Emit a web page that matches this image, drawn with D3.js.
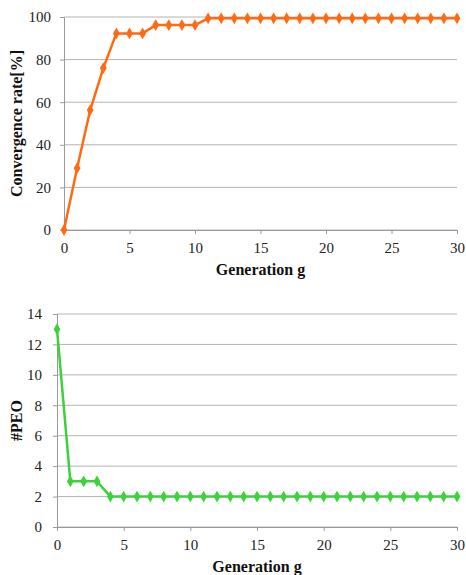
<!DOCTYPE html>
<html><head><meta charset="utf-8">
<script src="https://cdn.jsdelivr.net/npm/d3@7"></script>
<style>body{margin:0;background:#fff}svg{display:block}</style>
</head><body>
<script>
const generations = [0,1,2,3,4,5,6,7,8,9,10,11,12,13,14,15,16,17,18,19,20,21,22,23,24,25,26,27,28,29,30];
const convergenceRate = [0, 29, 56.3, 76, 92.3, 92.3, 92.3, 96.2, 96.2, 96.2, 96.2,
  99.4, 99.4, 99.4, 99.4, 99.4, 99.4, 99.4, 99.4, 99.4, 99.4,
  99.4, 99.4, 99.4, 99.4, 99.4, 99.4, 99.4, 99.4, 99.4, 99.4];
const peoCount = [13, 3, 3, 3, 2, 2, 2, 2, 2, 2, 2,
  2, 2, 2, 2, 2, 2, 2, 2, 2, 2,
  2, 2, 2, 2, 2, 2, 2, 2, 2, 2];
const xTicks = [0, 5, 10, 15, 20, 25, 30];
const topYTicks = [0, 20, 40, 60, 80, 100];
const bottomYTicks = [0, 2, 4, 6, 8, 10, 12, 14];

const FONT = "Liberation Serif";
const svg = d3.select("body").append("svg").attr("width", 466).attr("height", 575)
  .attr("font-family", FONT).style("font-family", FONT);

function panel(opt) {
  const x = d3.scaleLinear().domain([0, 30]).range([opt.x0, opt.x1]);
  const y = d3.scaleLinear().domain(opt.yDomain).range([opt.y0, opt.y1]);
  const g = svg.append("g");
  g.selectAll("line.grid").data(opt.yTicks).join("line")
    .attr("x1", opt.x0).attr("x2", opt.x1)
    .attr("y1", d => y(d)).attr("y2", d => y(d))
    .attr("stroke", "#b4b4b4").attr("stroke-width", 1);
  const ya = g.append("g").attr("transform", `translate(${opt.x0},0)`)
    .call(d3.axisLeft(y).tickValues(opt.yTicks).tickSize(4).tickPadding(opt.yPad));
  const xa = g.append("g").attr("transform", `translate(0,${opt.y0})`)
    .call(d3.axisBottom(x).tickValues(xTicks).tickSize(4).tickPadding(8));
  for (const a of [ya, xa]) {
    a.attr("font-family", FONT).attr("font-size", 15);
    a.select(".domain").attr("stroke", "#9a9a9a");
    a.selectAll(".tick line").attr("stroke", "#9a9a9a");
    a.selectAll(".tick text").attr("font-family", FONT).style("font-family", FONT)
      .attr("font-size", 15).attr("fill", "#222");
  }
  g.append("path").datum(opt.values)
    .attr("fill", "none").attr("stroke", opt.color).attr("stroke-width", 2.5)
    .attr("stroke-linejoin", "round")
    .attr("d", d3.line().x((d, i) => x(generations[i])).y(d => y(d)));
  g.selectAll("path.mk").data(opt.values).join("path")
    .attr("class", "mk")
    .attr("transform", (d, i) => `translate(${x(generations[i])},${y(d)})`)
    .attr("d", d3.symbol(d3.symbolDiamond, 40)())
    .attr("fill", opt.color);
  g.append("text").attr("x", (opt.x0 + opt.x1) / 2).attr("y", opt.y0 + 45)
    .attr("text-anchor", "middle").attr("font-family", FONT).style("font-family", FONT)
    .attr("font-weight", "bold").attr("font-size", 16).attr("fill", "#111").text("Generation g");
  g.append("text")
    .attr("transform", `translate(22,${(opt.y0 + opt.y1) / 2}) rotate(-90)`)
    .attr("text-anchor", "middle").attr("font-family", FONT).style("font-family", FONT)
    .attr("font-weight", "bold").attr("font-size", 16).attr("fill", "#111").text(opt.yLabel);
}

panel({x0: 64, x1: 457, y0: 230, y1: 17, yDomain: [0, 100], yTicks: topYTicks,
  values: convergenceRate, color: "#ff6a13", yLabel: "Convergence rate[%]", yPad: 9});
panel({x0: 57, x1: 457, y0: 527, y1: 314, yDomain: [0, 14], yTicks: bottomYTicks,
  values: peoCount, color: "#3dd23d", yLabel: "#PEO", yPad: 11});
</script>
</body></html>
